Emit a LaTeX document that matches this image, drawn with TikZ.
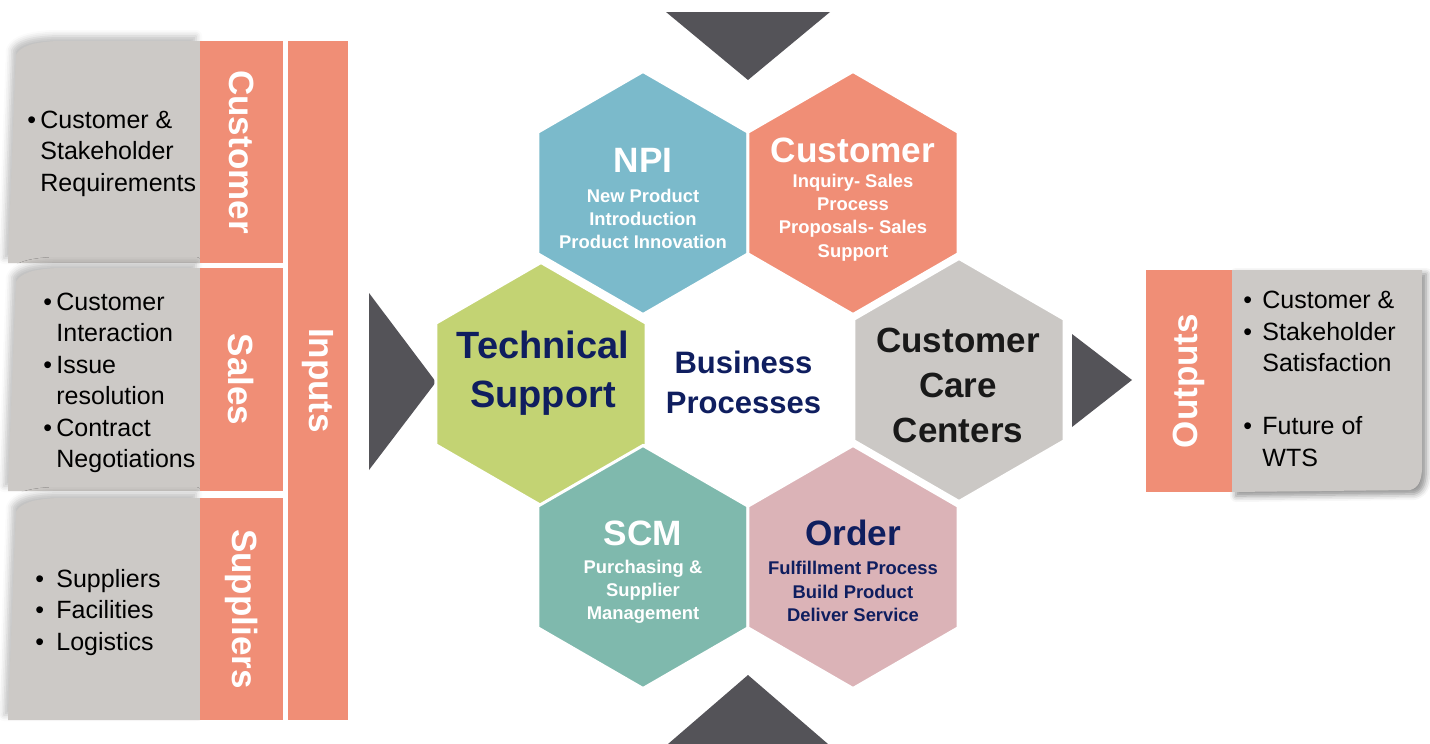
\documentclass[tikz,border=0pt]{standalone}
\usepackage{fontspec}
\setmainfont{Liberation Sans}
\usetikzlibrary{positioning,shapes.geometric,shadows.blur}

\definecolor{arrowgray}{HTML}{545358}
\definecolor{panelgray}{HTML}{CCC9C6}
\definecolor{salmon}{HTML}{F08E76}
\definecolor{npiblue}{HTML}{7BBACB}
\definecolor{techgreen}{HTML}{C3D373}
\definecolor{caregray}{HTML}{CBC8C5}
\definecolor{scmteal}{HTML}{7FB9AD}
\definecolor{orderpink}{HTML}{DBB3B7}
\definecolor{navy}{HTML}{0F1E5F}

\newcommand{\bitem}[1]{\makebox[#1][l]{\textbullet}}

\begin{document}
\begin{tikzpicture}[x=0.5pt, y=-0.5pt,
         strip/.style = {fill=salmon, inner sep=0pt, text=white,
            font=\bfseries\fontsize{17.5}{22}\selectfont},
         panel/.style = {fill=panelgray, blur shadow={shadow xshift=-2pt,
            shadow yshift=2.5pt, shadow blur radius=3pt, shadow opacity=25}},
         bullets/.style = {inner sep=0pt, anchor=west, align=left,
            font=\fontsize{12.5}{15.75}\selectfont},
         hexa/.style = {regular polygon, regular polygon sides=6,
            shape border rotate=30, minimum size=121.5pt, inner sep=0pt,
            draw=white, line width=1.5pt},
         hextitle/.style = {inner sep=0pt,
            font=\bfseries\fontsize{17.6}{22}\selectfont},
         hexsub/.style = {inner sep=0pt, align=center,
            font=\bfseries\fontsize{9.2}{11.6}\selectfont}
]
   \useasboundingbox (0,0) rectangle (1430,744);

   % input panels
   \fill[panel] (200,41) -- (58,41) .. controls (34,42) and (20,46) .. (16,55)
      -- (8,263) -- (200,263) -- cycle;
   \fill[panel] (200,268) -- (58,268) .. controls (34,269) and (20,273) .. (16,282)
      -- (8,491) -- (200,491) -- cycle;
   \fill[panel] (200,498) -- (58,498) .. controls (34,499) and (20,503) .. (16,512)
      -- (8,720) -- (200,720) -- cycle;

   \node[strip, rotate=-90, minimum width=111pt, minimum height=41.5pt]
      (custstrip) at (241.5,152) {Customer};
   \node[strip, rotate=-90, minimum width=111.5pt, minimum height=41.5pt]
      (salesstrip) at (241.5,379.5) {Sales};
   \node[strip, rotate=-90, minimum width=111pt, minimum height=41.5pt]
      (supstrip) at (241.5,609) {Suppliers};
   \node[strip, rotate=-90, minimum width=339.5pt, minimum height=30pt]
      (inputs) at (318,380.5) {Inputs};

   \node[bullets] (custlist) at (27,153.5) {\begin{tabular}{@{}l@{}l@{}}
      \bitem{6.5pt} & Customer \&\\ & Stakeholder\\ & Requirements
      \end{tabular}};
   \node[bullets] (saleslist) at (43,382.5) {\begin{tabular}{@{}l@{}l@{}}
      \bitem{6.5pt} & Customer\\ & Interaction\\
      \bitem{6.5pt} & Issue\\ & resolution\\
      \bitem{6.5pt} & Contract\\ & Negotiations
      \end{tabular}};
   \node[bullets] (suplist) at (35,612.5) {\begin{tabular}{@{}l@{}l@{}}
      \bitem{10.5pt} & Suppliers\\ \bitem{10.5pt} & Facilities\\
      \bitem{10.5pt} & Logistics
      \end{tabular}};

   % arrows
   \fill[arrowgray] (666,12) -- (830,12) -- (748,80) -- cycle;
   \fill[arrowgray] (668,744) -- (828,744) -- (748,675) -- cycle;
   \fill[arrowgray] (369,293) -- (436,382) -- (369,470) -- cycle;
   \fill[arrowgray] (1072,334) -- (1132,380) -- (1072,427) -- cycle;

   % hexagons
   \node[hexa, fill=npiblue]   (npi)   at (643,193) {};
   \node[hexa, fill=salmon]    (cust)  at (853,193) {};
   \node[hexa, fill=techgreen] (tech)  at (541,384) {};
   \node[hexa, fill=caregray]  (care)  at (959,380) {};
   \node[hexa, fill=scmteal]   (scm)   at (643,567) {};
   \node[hexa, fill=orderpink] (order) at (853,567) {};

   \node[hextitle, text=white] (npititle) at (643,160) {NPI};
   \node[hexsub, text=white]   (npisub)   at (643,219)
      {New Product\\Introduction\\Product Innovation};
   \node[hextitle, text=white] (custtitle) at (853,150) {Customer};
   \node[hexsub, text=white]   (custsub)   at (853,217.5)
      {Inquiry- Sales\\Process\\Proposals- Sales\\Support};
   \node[hextitle, text=white] (scmtitle) at (643,533) {SCM};
   \node[hexsub, text=white]   (scmsub)   at (643,591.5)
      {Purchasing \&\\Supplier\\Management};
   \node[hextitle, text=navy]  (ordertitle) at (853,533) {Order};
   \node[hexsub, text=navy]    (ordersub)   at (853,591.5)
      {Fulfillment Process\\Build Product\\Deliver Service};

   \node[inner sep=0pt, align=center, text=navy,
      font=\bfseries\fontsize{19}{24.5}\selectfont]
      (techtext) at (543,373) {Technical\\Support};
   \node[inner sep=0pt, align=center, text=navy,
      font=\bfseries\fontsize{15.5}{20}\selectfont]
      (bp) at (743.5,382) {Business\\Processes};
   \node[inner sep=0pt, align=center, text=black!90,
      font=\bfseries\fontsize{17.5}{22.5}\selectfont]
      (caretext) at (958,385) {Customer\\Care\\Centers};

   % outputs
   \fill[panel, blur shadow={shadow xshift=2pt, shadow yshift=-2pt,
      shadow blur radius=3pt, shadow opacity=25}]
      (1232,270) -- (1422,270) -- (1422,470)
      .. controls (1421,482) and (1418,488) .. (1410,490)
      -- (1232,492) -- cycle;
   \node[strip, rotate=90, minimum width=111pt, minimum height=43pt]
      (outputs) at (1189,381) {Outputs};
   \node[bullets] (outlist) at (1243,381) {\begin{tabular}{@{}l@{}l@{}}
      \bitem{9.5pt} & Customer \&\\ \bitem{9.5pt} & Stakeholder\\
      & Satisfaction\\ & \\ \bitem{9.5pt} & Future of\\ & WTS
      \end{tabular}};
\end{tikzpicture}
\end{document}
